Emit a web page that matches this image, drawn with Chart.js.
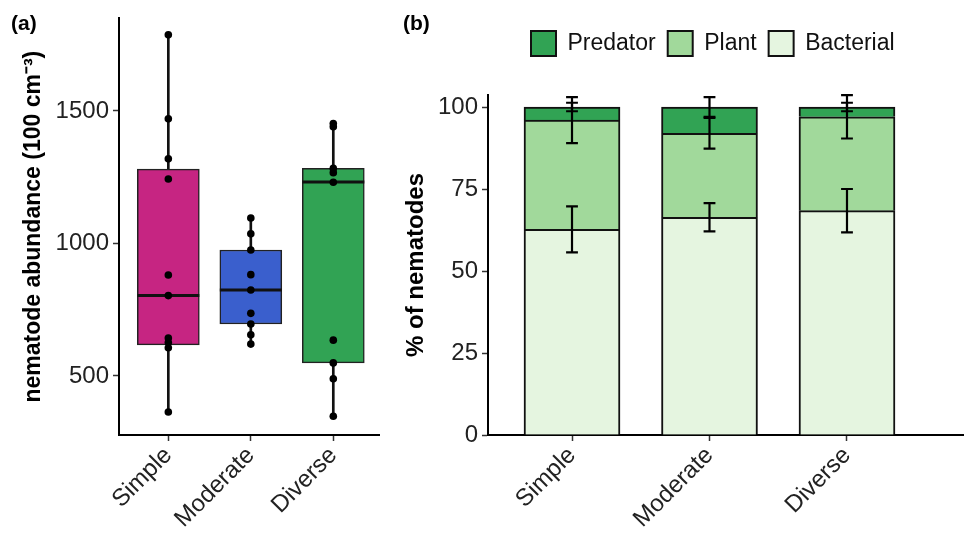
<!DOCTYPE html>
<html>
<head>
<meta charset="utf-8">
<title>Nematode abundance and composition</title>
<script src="https://cdn.jsdelivr.net/npm/chart.js@4.4.1/dist/chart.umd.min.js"></script>
<style>
  body { margin: 0; background: #fff; }
  #page { position: relative; width: 964px; height: 534px; overflow: hidden; background: #fff; }
  .panel { position: absolute; top: 0; height: 534px; }
  .tag { position: absolute; font: bold 21px "Liberation Sans", Arial, sans-serif; line-height: 24px; color: #000; }
</style>
</head>
<body>
<div id="page">
  <div class="panel" style="left:0; width:383px;"><canvas id="chartA"></canvas></div>
  <div class="panel" style="left:390px; width:574px;"><canvas id="chartB"></canvas></div>
  <div class="tag" style="left:11px; top:11px;">(a)</div>
  <div class="tag" style="left:403px; top:11px;">(b)</div>
</div>
<script>
const categories = ['Simple', 'Moderate', 'Diverse'];

// (a) box plot: whisker ends, quartiles, medians
const whiskerLow = [364, 620, 348];
const boxQ1 = [617, 696, 549];
const boxMedian = [803, 824, 1232];
const boxQ3 = [1280, 975, 1283];
const whiskerHigh = [1787, 1096, 1450];
const boxColors = ['#C62582', '#3A5FCD', '#31A354'];
// (a) individual samples
const samplesSimple = [1787, 1470, 1319, 1243, 881, 803, 643, 626, 606, 364];
const samplesModerate = [1096, 1036, 975, 882, 824, 736, 696, 655, 620];
const samplesDiverse = [1452, 1440, 1283, 1267, 1231, 635, 549, 489, 348];
const abundanceTicks = [500, 1000, 1500];

// (b) percent of nematodes by feeding group
const bacterial = [62.7, 66.4, 68.4];
const plant = [33.3, 25.6, 28.6];
const predator = [4.0, 8.0, 3.0];
const bacterialErr = [7.0, 4.3, 6.6];
const plantErr = [7.0, 4.7, 6.6];
const predatorErr = [1.3, 3.0, 1.3];
const percentTicks = [0, 25, 50, 75, 100];

const FONT = '"Liberation Sans", Arial, sans-serif';
Chart.defaults.font.family = FONT;
Chart.defaults.color = '#333';

function catTicks(scale) {
    scale.ticks = categories.map((c, i) => ({ value: i + 1 }));
}

function catLabel(v) {
    return categories[Math.round(v) - 1] || '';
}

function axisX(min, max) {
    return {
        type: 'linear',
        min: min,
        max: max,
        bounds: 'data',
        offset: false,
        stacked: true,
        afterBuildTicks: catTicks,
        ticks: {
            callback: catLabel,
            minRotation: 45,
            maxRotation: 45,
            autoSkip: false,
            padding: -2,
            color: '#222',
            font: { size: 24, lineHeight: 1.5 }
        },
        grid: { offset: false, drawOnChartArea: false, drawTicks: true, tickLength: 6, tickWidth: 1.5, tickColor: '#333' },
        border: { display: true, color: '#000', width: 2 },
        afterFit: (s) => { s.height = 99; }
    };
}

function axisY(min, max, tickList, titleText, titleSize, titlePad, width) {
    return {
        type: 'linear',
        min: min,
        max: max,
        bounds: 'data',
        afterBuildTicks: (s) => { s.ticks = tickList.map((v) => ({ value: v })); },
        ticks: { padding: 4, color: '#222', font: { size: 24 }, callback: (v) => String(v) },
        grid: { drawOnChartArea: false, drawTicks: true, tickLength: 6, tickWidth: 1.5, tickColor: '#333' },
        border: { display: true, color: '#000', width: 2 },
        title: {
            display: true,
            text: titleText,
            color: '#000',
            font: { size: titleSize, weight: 'bold' },
            padding: { top: titlePad, bottom: 0 }
        },
        afterFit: (s) => { s.width = width; }
    };
}

// (a)
var allSamples = [];
[samplesSimple, samplesModerate, samplesDiverse].forEach((list, i) => {
    list.forEach((v) => allSamples.push({ x: i + 1, y: v }));
});

const medianLines = {
    id: 'medianLines',
    afterDatasetDraw(chart, args) {
        if (args.index !== 1) return;
        const ctx = chart.ctx;
        const yScale = chart.scales.y;
        ctx.save();
        ctx.strokeStyle = '#111';
        ctx.lineWidth = 3;
        args.meta.data.forEach((bar, i) => {
            const py = yScale.getPixelForValue(boxMedian[i]);
            ctx.beginPath();
            ctx.moveTo(bar.x - bar.width / 2, py);
            ctx.lineTo(bar.x + bar.width / 2, py);
            ctx.stroke();
        });
        ctx.restore();
    }
};

new Chart(document.getElementById('chartA'), {
    type: 'bar',
    data: {
        datasets: [{
            type: 'scatter',
            label: 'samples',
            data: allSamples,
            pointRadius: 3.8,
            pointBackgroundColor: '#000',
            pointBorderWidth: 0,
            order: 0
        }, {
            label: 'box',
            data: categories.map((c, i) => ({ x: i + 1, y: [boxQ1[i], boxQ3[i]] })),
            backgroundColor: boxColors,
            borderColor: '#222',
            borderWidth: 1.5,
            borderSkipped: false,
            barThickness: 62,
            grouped: false,
            order: 1
        }, {
            label: 'whisker',
            data: categories.map((c, i) => ({ x: i + 1, y: [whiskerLow[i], whiskerHigh[i]] })),
            backgroundColor: '#111',
            borderWidth: 0,
            barThickness: 2,
            grouped: false,
            order: 2
        }]
    },
    options: {
        responsive: true,
        maintainAspectRatio: false,
        animation: false,
        events: [],
        layout: { padding: { top: 17, right: 0, bottom: 0, left: 0 } },
        plugins: { legend: { display: false }, tooltip: { enabled: false } },
        scales: {
            x: axisX(0.402, 3.554),
            y: axisY(277, 1849, abundanceTicks, 'nematode abundance (100 cm\u207B\u00B3)', 23, 20, 119)
        }
    },
    plugins: [medianLines]
});

// (b)
const capHalf = 0.043;
const errorBars = {
    id: 'errorBars',
    afterDatasetsDraw(chart) {
        const ctx = chart.ctx;
        const xs = chart.scales.x, ys = chart.scales.y;
        const groups = [[bacterial, bacterialErr], [plant, plantErr], [predator, predatorErr]];
        ctx.save();
        ctx.strokeStyle = '#000';
        ctx.lineWidth = 2.2;
        categories.forEach((c, i) => {
            const px = xs.getPixelForValue(i + 1);
            const half = xs.getPixelForValue(i + 1 + capHalf) - px;
            let top = 0;
            groups.forEach(([vals, errs]) => {
                top += vals[i];
                const y0 = ys.getPixelForValue(top - errs[i]);
                const y1 = ys.getPixelForValue(top + errs[i]);
                ctx.beginPath();
                ctx.moveTo(px, y0); ctx.lineTo(px, y1);
                ctx.moveTo(px - half, y0); ctx.lineTo(px + half, y0);
                ctx.moveTo(px - half, y1); ctx.lineTo(px + half, y1);
                ctx.stroke();
            });
        });
        ctx.restore();
    }
};

// legend row starts a little right of the plot's left edge
const legendShift = {
    id: 'legendShift',
    afterLayout(chart) { chart.legend.left += 31; }
};

function stackSet(label, values, colour) {
    return {
        label: label,
        data: values.map((v, i) => ({ x: i + 1, y: v })),
        backgroundColor: colour,
        borderColor: '#111',
        borderWidth: 2,
        barThickness: 96
    };
}

var yB = axisY(0, 103.66, percentTicks, '% of nematodes', 24, 12, 98);
yB.stacked = true;

new Chart(document.getElementById('chartB'), {
    type: 'bar',
    data: {
        datasets: [
            stackSet('Bacterial', bacterial, '#E5F5E0'),
            stackSet('Plant', plant, '#A1D99B'),
            stackSet('Predator', predator, '#31A354')
        ]
    },
    options: {
        responsive: true,
        maintainAspectRatio: false,
        animation: false,
        events: [],
        layout: { padding: { top: 19, right: 0, bottom: 0, left: 0 } },
        plugins: {
            tooltip: { enabled: false },
            // empty title only keeps a gap between legend and plot
            title: {
                display: true,
                text: '',
                fullSize: false,
                weight: 500,
                font: { size: 10 },
                padding: { top: 17, bottom: 0 }
            },
            legend: {
                position: 'top',
                fullSize: false,
                align: 'start',
                reverse: true,
                labels: {
                    boxWidth: 25,
                    boxHeight: 25,
                    padding: 12,
                    color: '#111',
                    font: { size: 23 }
                }
            }
        },
        scales: {
            x: axisX(0.389, 3.851),
            y: yB
        }
    },
    plugins: [errorBars, legendShift]
});
</script>
</body>
</html>
